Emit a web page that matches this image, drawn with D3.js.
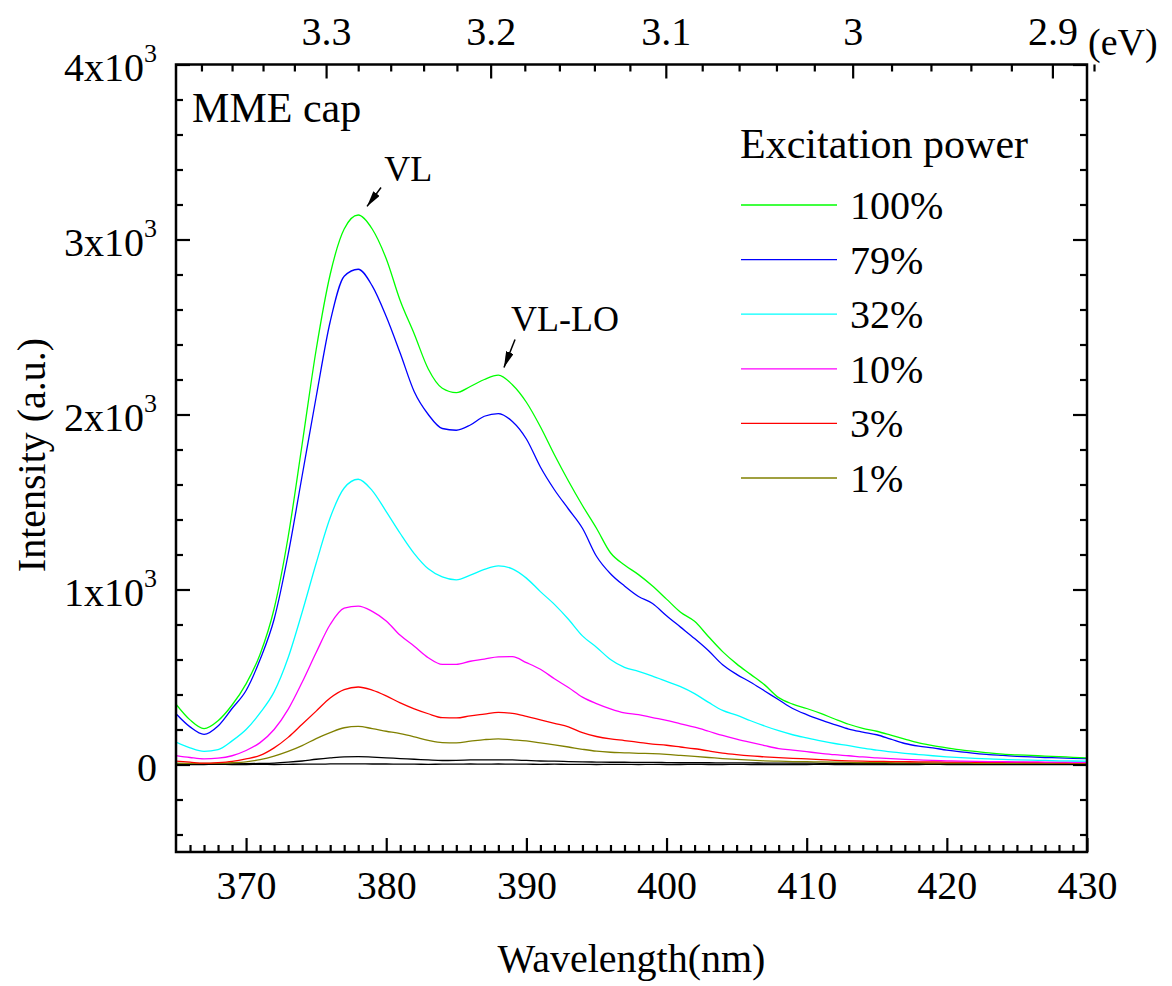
<!DOCTYPE html>
<html>
<head>
<meta charset="utf-8">
<script src="https://cdnjs.cloudflare.com/ajax/libs/d3/7.8.5/d3.min.js"></script>
<style>
  body { margin: 0; background: #fff; }
</style>
</head>
<body>
<div id="chart"></div>
<script>
var FONT = "Liberation Serif, Times New Roman, Times, DejaVu Serif, Noto Serif, FreeSerif, serif";

// wavelength grid (nm)
var wavelength = [365,366,367,368,369,370,371,372,373,374,375,376,377,378,379,380,381,382,383,384,385,386,387,388,389,390,
  391,392,393,394,395,396,397,398,399,400,401,402,403,404,405,406,407,408,409,410,411,412,413,414,415,416,417,418,419,420,
  421,422,423,424,425,426,427,428,429,430];

// PL intensity per excitation power (a.u.)
var p100 = [345,255,205,250,340,461,630,890,1300,1830,2370,2800,3060,3140,3060,2890,2650,2460,2260,2150,2125,2160,2200,2225,2170,2070,
  1930,1770,1620,1480,1350,1210,1140,1085,1020,945,870,818,730,645,575,515,455,382,345,320,292,260,230,207,190,168,145,123,108,95,
  83,75,66,59,55,52,48,45,41,38];
var p79 = [290,215,172,220,320,423,600,830,1200,1650,2100,2530,2790,2830,2735,2560,2350,2130,2000,1920,1910,1940,1990,2005,1960,1860,
  1700,1570,1460,1350,1190,1090,1020,960,920,850,785,720,650,570,515,470,420,370,320,285,255,228,202,185,170,145,120,105,95,82,
  72,64,57,52,47,43,40,38,35,33];
var p32 = [128,95,75,85,135,200,295,415,610,870,1150,1410,1580,1630,1565,1445,1320,1205,1118,1072,1055,1082,1115,1135,1118,1065,
  988,915,830,735,670,600,555,532,505,475,445,405,355,309,282,250,220,193,170,152,135,120,108,93,82,72,64,57,50,44,
  39,35,32,29,27,25,23,21,20,19];
var p10 = [51,40,32,36,50,80,125,200,315,470,640,800,893,905,875,820,738,676,610,572,572,590,602,615,616,582,
  544,490,440,385,348,318,295,285,268,252,232,213,190,166,145,126,108,91,82,73,64,56,50,43,38,33,29,26,23,21,
  19,18,17,16,15,15,14,14,13,13];
var p3 = [19,13,8,11,18,32,52,95,155,230,305,380,428,443,425,392,352,318,290,268,266,278,288,298,292,275,
  255,235,215,182,160,146,137,127,117,110,100,90,78,65,56,49,44,39,35,32,28,24,21,19,18,17,16,15,15,14,
  14,13,13,12,12,11,11,10,10,10];
var p1 = [8,7,7,8,10,15,28,48,75,108,148,182,210,218,205,190,176,158,138,125,124,133,142,147,141,135,
  123,112,100,87,76,70,67,64,62,58,52,46,40,34,29,25,21,19,17,16,15,14,12,11,11,10,9,9,8,8,
  8,7,7,7,7,6,6,6,6,6];
var pLowA = [4,4,3,3,4,5,6,8,13,20,30,38,44,45,42,38,34,30,26,23,24,26,27,27,26,23,
  20,19,17,15,14,13,13,12,12,11,10,10,10,9,9,9,8,8,8,8,7,7,7,7,7,6,6,6,6,6,
  6,6,5,5,5,5,5,5,5,5];
var pLowB = [0,-1,0,1,0,0,1,0,1,2,2,3,4,4,3,3,2,2,1,2,2,3,2,3,2,2,
  1,2,1,1,0,1,1,0,1,0,0,1,0,0,1,0,0,-1,0,0,1,0,0,0,-1,0,0,0,1,0,
  0,0,-1,0,0,0,0,-1,0,0];

var seriesNames = ["100%", "79%", "32%", "10%", "3%", "1%"];
var seriesColors = ["#00ff00", "#0000ff", "#00ffff", "#ff00ff", "#ff0000", "#808000"];
var seriesValues = [p100, p79, p32, p10, p3, p1];

// axis ticks
var xMajor = [370, 380, 390, 400, 410, 420, 430];
var yMajor = [0, 1000, 2000, 3000, 4000];
var yLabels = ["0", "1x10", "2x10", "3x10", "4x10"];
var eVMajor = [3.3, 3.2, 3.1, 3.0, 2.9];
var eVLabels = ["3.3", "3.2", "3.1", "3", "2.9"];
var hc = 1239.84;

var margin = {top: 64.5, left: 176},
    width = 911,
    height = 787.5;

var svg = d3.select("#chart").append("svg")
    .attr("width", 1172)
    .attr("height", 986)
    .attr("font-family", FONT);

var g = svg.append("g").attr("transform", "translate(" + margin.left + "," + margin.top + ")");

var x = d3.scaleLinear().domain([365, 430]).range([0, width]);
var y = d3.scaleLinear().domain([-500, 4000]).range([height, 0]);

svg.append("defs").append("clipPath").attr("id", "clip")
  .append("rect").attr("width", width).attr("height", height);

svg.select("defs").append("marker")
    .attr("id", "arrow")
    .attr("viewBox", "0 0 16 8")
    .attr("refX", 16).attr("refY", 4)
    .attr("markerWidth", 16).attr("markerHeight", 8)
    .attr("markerUnits", "userSpaceOnUse")
    .attr("orient", "auto")
  .append("path").attr("d", "M0,0L16,4L0,8Z").attr("fill", "#000");

// minor ticks
var xMinor = [];
for (var m = 366; m < 430; m++) if (m % 10 !== 0) xMinor.push(m);
var yMinor = [];
for (var v = -400; v <= 4000; v += 200) if (v % 1000 !== 0) yMinor.push(v);
var eVMinor = [];
for (var k = 338; k >= 288; k -= 2) if (k % 10 !== 0) eVMinor.push(k / 100);

function styleAxis(sel) {
  sel.attr("font-family", FONT).attr("font-size", 40);
  sel.select(".domain").remove();
  sel.selectAll(".tick line").attr("stroke", "#000").attr("stroke-width", 2.2);
  sel.selectAll(".tick text").attr("fill", "#000");
}

// bottom
g.append("g").attr("transform", "translate(0," + height + ")")
  .call(d3.axisBottom(x).tickValues(xMajor).tickSize(-14).tickPadding(19).tickFormat(d3.format("d")))
  .call(styleAxis);
g.append("g").attr("transform", "translate(0," + height + ")")
  .call(d3.axisBottom(x).tickValues(xMinor).tickSize(-7).tickFormat(""))
  .call(styleAxis);

// top (energy)
g.append("g")
  .call(d3.axisTop(x).tickValues(eVMajor.map(function(e){ return hc / e; })).tickSize(-14).tickPadding(20)
    .tickFormat(function(d, i){ return eVLabels[i]; }))
  .call(styleAxis);
g.append("g")
  .call(d3.axisTop(x).tickValues(eVMinor.map(function(e){ return hc / e; })).tickSize(-7).tickFormat(""))
  .call(styleAxis);

// left
var gl = g.append("g")
  .call(d3.axisLeft(y).tickValues(yMajor).tickSize(-14).tickPadding(19).tickFormat(function(d, i){ return yLabels[i]; }))
  .call(styleAxis);
gl.selectAll(".tick text").attr("dy", "0.4em")
  .filter(function(d){ return d !== 0; })
  .append("tspan").attr("dy", "-0.72em").attr("font-size", 26).text("3");
g.append("g")
  .call(d3.axisLeft(y).tickValues(yMinor).tickSize(-7).tickFormat(""))
  .call(styleAxis);

// right
g.append("g").attr("transform", "translate(" + width + ",0)")
  .call(d3.axisRight(y).tickValues(yMajor).tickSize(-14).tickFormat(""))
  .call(styleAxis);
g.append("g").attr("transform", "translate(" + width + ",0)")
  .call(d3.axisRight(y).tickValues(yMinor).tickSize(-7).tickFormat(""))
  .call(styleAxis);

// curves
var line = d3.line()
  .curve(d3.curveMonotoneX)
  .x(function(d){ return x(d[0]); })
  .y(function(d){ return y(d[1]); });

var plot = g.append("g").attr("clip-path", "url(#clip)");

[pLowB, pLowA].forEach(function(vals){
  plot.append("path")
    .datum(wavelength.map(function(w, i){ return [w, vals[i]]; }))
    .attr("fill", "none").attr("stroke", "#000").attr("stroke-width", 1.3)
    .attr("d", line);
});

seriesValues.slice().reverse().forEach(function(vals, j){
  var i = seriesValues.length - 1 - j;
  plot.append("path")
    .datum(wavelength.map(function(w, k){ return [w, vals[k]]; }))
    .attr("fill", "none").attr("stroke", seriesColors[i]).attr("stroke-width", 1.3)
    .attr("d", line);
});

// frame
g.append("rect").attr("width", width).attr("height", height)
  .attr("fill", "none").attr("stroke", "#000").attr("stroke-width", 2.5);

// legend
var legend = svg.append("g");
legend.append("text").attr("x", 740).attr("y", 158).attr("font-size", 42).text("Excitation power");
seriesNames.forEach(function(name, i){
  var ly = 205 + i * 54.6;
  legend.append("line").attr("x1", 741).attr("x2", 837).attr("y1", ly).attr("y2", ly)
    .attr("stroke", seriesColors[i]).attr("stroke-width", 1.3);
  legend.append("text").attr("x", 850).attr("y", ly).attr("dy", "0.35em")
    .attr("font-size", 40).text(name);
});

// annotations
g.append("text").attr("x", x(366.15)).attr("y", y(3670)).attr("font-size", 42).text("MME cap");
g.append("text").attr("x", x(379.86)).attr("y", y(3337)).attr("font-size", 36).text("VL");
g.append("line").attr("x1", x(379.63)).attr("y1", y(3297)).attr("x2", x(378.63)).attr("y2", y(3189))
  .attr("stroke", "#000").attr("stroke-width", 1.5).attr("marker-end", "url(#arrow)");
g.append("text").attr("x", x(388.9)).attr("y", y(2480)).attr("font-size", 36).text("VL-LO");
g.append("line").attr("x1", x(389.19)).attr("y1", y(2429)).attr("x2", x(388.4)).attr("y2", y(2269))
  .attr("stroke", "#000").attr("stroke-width", 1.5).attr("marker-end", "url(#arrow)");

// axis titles
svg.append("text").attr("x", 1088).attr("y", 55).attr("font-size", 38).text("(eV)");
svg.append("text").attr("x", margin.left + width / 2).attr("y", 972).attr("text-anchor", "middle")
  .attr("font-size", 40).text("Wavelength(nm)");
svg.append("text").attr("transform", "translate(45,455) rotate(-90)").attr("text-anchor", "middle")
  .attr("font-size", 40).text("Intensity (a.u.)");
</script>
</body>
</html>
